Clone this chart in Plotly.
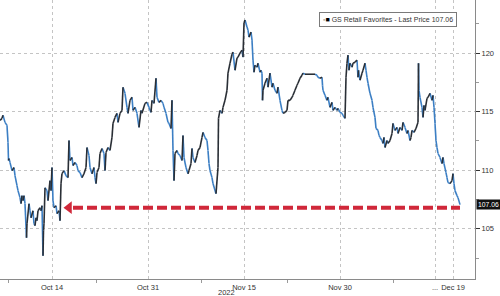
import plotly.graph_objects as go

# ---- data ----
# session position along the (compressed, intraday) time axis
t = [0, 2, 3, 5, 7, 8, 8.5, 9, 10, 12, 14, 15, 17, 18, 20, 21, 22, 23, 24, 25, 26.5, 27, 29, 30, 31, 33,
     34, 35, 36, 37, 38, 40, 41, 42, 43, 43.5, 44, 45, 47, 48, 50, 51, 52, 53, 54, 56, 57, 59, 60,
     61, 62, 64, 66, 68, 69, 70, 72, 73, 75, 77, 78, 80, 82, 84, 86, 87, 89, 90, 92, 94, 95, 96, 97,
     99, 100, 102, 104, 105, 106, 108, 110, 112, 113, 115, 117, 118, 120, 122, 123, 125, 127, 128,
     130, 132, 133, 135, 137, 139, 141, 142, 145, 147, 149, 151, 152, 154, 156, 157, 159, 161, 163,
     164, 166, 168, 169, 171, 172, 173, 174, 175, 177, 178, 180, 182, 183, 184, 186, 188, 189, 191,
     192, 193, 195, 197, 198, 200, 202, 203, 205, 207, 208, 209, 210, 212, 213, 216,
     218, 218.5, 220, 222, 223, 225, 227, 228, 230, 232, 233, 235, 237, 238, 240, 242, 243, 244, 245,
     247, 248, 249, 251, 252, 253, 254, 255, 257, 258, 260, 261, 262, 262.5, 263, 265, 267, 268, 270,
     272, 273, 275, 277, 278, 280, 282, 283, 285, 287, 288, 290, 292, 293, 295, 297, 298, 300, 302,
     303, 305, 310, 315, 317, 318, 320, 322, 322.5, 323, 325, 327, 328, 330, 332, 333, 335, 337, 338,
     340, 342, 343, 345, 346, 347, 348, 349, 350, 352, 353, 355, 357, 358, 358.5, 360, 362, 363, 365,
     366, 367, 368, 370, 372, 373, 375, 376, 378, 379, 380, 382, 383, 384, 385, 387, 388, 390, 392,
     393, 395, 397, 398, 400, 402, 403, 405, 407, 408, 410, 411, 412, 414, 416, 418, 418.5, 419, 420,
     422, 423, 424, 425, 427, 428, 430, 432, 433, 434, 435, 436, 437, 438, 440, 442, 443, 444, 446,
     447, 448, 450, 452, 453, 454, 455, 457, 458, 460]

price = [114.26, 114.43, 114.69, 114.09, 113.83, 112.37, 110.83, 111.00, 110.66, 109.97, 110.23, 109.54,
         108.69, 108.26, 107.66, 107.14, 107.83, 107.40, 107.83, 107.14, 104.23, 105.43, 107.14, 106.54,
         105.94, 106.54, 105.43, 105.26, 105.94, 105.69, 106.54, 106.80, 106.54, 106.97, 102.69, 104.83,
         105.43, 108.51, 108.26, 107.40, 109.11, 108.26, 110.23, 107.40, 106.80, 106.97, 106.29, 106.54,
         105.69,
         108.86, 109.71, 109.97, 109.54, 109.37, 112.54, 110.83, 111.09, 110.40, 110.66, 110.40, 109.97,
         109.80, 109.37, 109.71, 110.23, 111.94, 111.26, 110.23, 109.71, 110.23, 109.37, 108.86, 109.80,
         110.23, 111.43, 111.86, 111.43, 109.97, 111.51, 111.94, 111.69, 112.80, 114.00, 114.51, 114.86,
         114.09, 114.86, 115.11, 117.09, 116.57, 115.37, 114.86, 115.97, 116.23, 115.11, 115.37, 114.86,
         113.66, 115.11, 114.86, 115.71, 115.80, 115.37, 114.94, 115.97, 115.71, 117.86, 116.23, 115.80,
         115.97, 115.71, 115.37, 114.86, 114.09, 114.00, 113.57, 115.97, 111.69, 109.11, 111.43, 111.69,
         111.43, 111.26, 110.83, 112.97, 111.09, 110.23, 109.71, 109.97, 110.57, 111.86, 111.09, 110.66,
         111.26, 111.69, 111.94, 112.80, 113.23, 112.80, 112.54, 111.69, 110.57, 109.97, 109.37, 108.86,
         108.00,
         110.23, 114.43, 115.11, 114.86, 115.37, 115.97, 116.83, 118.29, 119.14, 119.91, 120.09, 118.54,
         119.57, 119.66, 120.00, 120.26, 119.66, 122.57, 122.83, 122.23, 121.97, 121.37, 121.80, 121.11,
         119.40, 118.37, 118.97, 118.80, 119.14, 118.37, 118.54, 118.29, 115.97, 116.83, 117.43, 117.86,
         117.09, 118.29, 117.09, 117.43, 116.83, 116.57, 117.09, 115.97, 115.11, 114.86, 114.94, 115.11,
         115.97, 115.97, 116.23, 116.40, 116.83, 117.26, 117.43, 117.86, 118.11, 118.29, 118.20, 118.20,
         118.20, 118.11, 117.94, 117.86, 117.94, 117.26, 116.83, 116.40, 115.97, 116.23, 115.37, 115.80,
         115.11, 115.37, 115.11, 115.28, 114.94, 114.86, 114.69, 114.43, 117.94, 119.14, 119.83, 118.54,
         119.14, 118.80, 119.14, 119.23, 119.40, 117.94, 118.54, 117.69, 118.29, 118.54, 119.14, 118.54,
         117.94, 117.43, 116.57, 115.97, 115.37, 114.51, 113.57, 113.40, 112.97, 112.80, 112.54, 112.29,
         112.80, 111.94, 112.54, 112.29, 112.54, 113.14, 114.00, 113.40, 113.66, 113.14, 113.66, 113.40,
         114.09, 113.66, 113.14, 113.40, 112.54, 112.80, 113.40, 113.23, 113.57, 114.09, 119.14, 116.83,
         116.23, 115.37, 114.51, 115.54, 115.11, 116.14, 116.23, 116.57, 115.97, 116.40, 115.37, 114.00,
         112.54, 111.94, 111.43, 111.09, 110.57, 111.09, 110.57, 109.80, 109.37, 108.94, 108.86, 109.11,
         109.71, 108.86, 108.26, 107.83, 107.66, 107.06]

tick_pos = [52, 148, 244, 340, 435, 453]
tick_text = ["Oct 14", "Oct 31", "Nov 15", "Nov 30", "...", "Dec 19"]
minor_pos = [8, 96, 201, 287, 393]
y_ticks = [105, 110, 115, 120]
y_tick_text = ["105", "110", "115", "120"]
year_label = "2022"
year_pos = 226
series_name = "GS Retail Favorites - Last Price"
last_price = 107.06
arrow_level = 106.8
arrow_tip = 64
arrow_tail = 460
x_range = [0, 475]
y_range = [100.71, 124.54]

# ---- split into rising / falling segments ----
up_x, up_y, dn_x, dn_y = [], [], [], []
for i in range(1, len(t)):
    sx = [t[i - 1], t[i], None]
    sy = [price[i - 1], price[i], None]
    if price[i] >= price[i - 1]:
        up_x += sx
        up_y += sy
    else:
        dn_x += sx
        dn_y += sy

fig = go.Figure()
fig.add_trace(go.Scatter(x=dn_x, y=dn_y, mode="lines",
                         line=dict(color="#3c7fc4", width=1.6), hoverinfo="skip"))
fig.add_trace(go.Scatter(x=up_x, y=up_y, mode="lines",
                         line=dict(color="#2a2f36", width=1.6), hoverinfo="skip"))

# red dashed arrow
fig.add_trace(go.Scatter(x=[arrow_tip + 9, arrow_tail], y=[arrow_level, arrow_level], mode="lines",
                         line=dict(color="#d0283a", width=4, dash="10px,4px"), hoverinfo="skip"))
fig.add_trace(go.Scatter(x=[arrow_tip + 5], y=[arrow_level], mode="markers",
                         marker=dict(symbol="triangle-left", size=11, color="#d0283a"),
                         hoverinfo="skip"))

font = dict(family="Liberation Sans, Arial, sans-serif", size=7.5, color="#333333")

fig.update_layout(
    width=500, height=296,
    margin=dict(l=0, r=25, t=0, b=17),
    paper_bgcolor="white", plot_bgcolor="white",
    showlegend=False,
    font=font,
    xaxis=dict(range=x_range, tickmode="array", tickvals=tick_pos, ticktext=tick_text,
               showgrid=True, gridcolor="#c4c4c4", griddash="dot", gridwidth=1,
               showline=True, linecolor="#8a8a8a", linewidth=1, ticks="", ticklabelstandoff=1,
               zeroline=False, tickfont=font,
               minor=dict(tickmode="array", tickvals=minor_pos, ticks="outside", ticklen=3,
                          tickcolor="#9a9a9a", showgrid=False)),
    yaxis=dict(range=y_range, side="right", tickmode="array", tickvals=y_ticks, ticktext=y_tick_text,
               showgrid=True, gridcolor="#c4c4c4", griddash="dot", gridwidth=1,
               showline=True, linecolor="#8a8a8a", linewidth=1,
               ticks="outside", ticklen=4, tickcolor="#333333", zeroline=False, tickfont=font,
               minor=dict(dtick=2.5, tick0=100, ticks="outside", ticklen=3, tickcolor="#9a9a9a",
                          showgrid=False)),
)

# year under the axis
fig.add_annotation(x=year_pos, xref="x", y=0, yref="paper", yanchor="middle", yshift=-13,
                   text=year_label, showarrow=False, font=font)

# last price tag
fig.add_annotation(x=1, xref="paper", xanchor="left", xshift=1, y=last_price, yref="y",
                   text=f"{last_price:.2f}", showarrow=False, bgcolor="#111111",
                   font=dict(family="Liberation Sans, Arial, sans-serif", size=6.8, color="white"),
                   borderpad=1)

# legend box
fig.add_annotation(x=319, xref="x", xanchor="left", y=1 - 12 / 279, yref="paper", yanchor="top",
                   text=("<span style='color:#b0b0b0'>▪</span><span style='color:#000'>■</span> "
                         f"{series_name} {last_price:.2f}"),
                   showarrow=False, bgcolor="white", bordercolor="#7a7a7a", borderwidth=1,
                   borderpad=3,
                   font=dict(family="Liberation Sans, Arial, sans-serif", size=7, color="#333333"))

fig.write_html("out.html")
